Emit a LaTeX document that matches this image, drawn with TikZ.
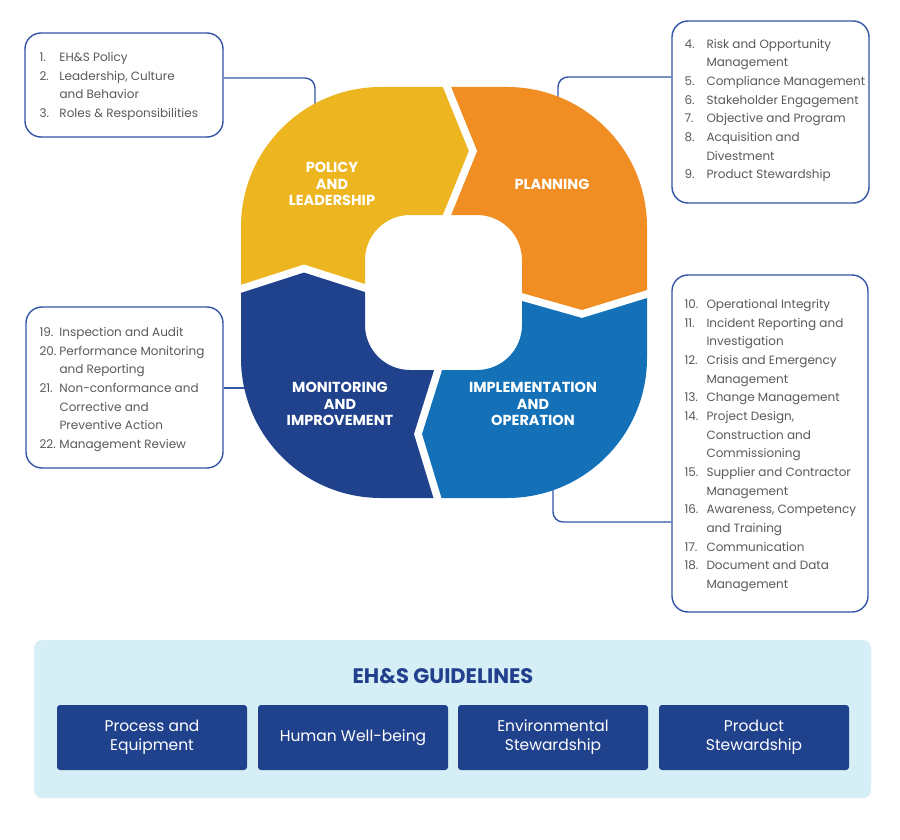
\documentclass[tikz,border=0pt]{standalone}
\usepackage{fontspec}
\setmainfont{Poppins}
\usetikzlibrary{calc}
\definecolor{yellowc}{HTML}{EDB51F}
\definecolor{orangec}{HTML}{F08D23}
\definecolor{bluec}{HTML}{1471B8}
\definecolor{navyc}{HTML}{20418C}
\definecolor{boxline}{HTML}{3356A6}
\definecolor{listgray}{HTML}{5A5A5C}
\definecolor{panelc}{HTML}{D6EEF5}
\definecolor{titlec}{HTML}{213F8D}
\newlength\nmw
\newcommand\nm[1]{\makebox[\nmw][l]{#1}}
\newcommand\ringpath{[rounded corners=140pt] (241,87) rectangle (647,498) [rounded corners=45pt] (365,215) rectangle (522,370)}
\begin{document}
\begin{tikzpicture}[x=1pt,y=-1pt,
  listbox/.style={draw=boxline, line width=1.4pt, rounded corners=16pt, inner sep=0pt},
  listtext/.style={inner sep=0pt, align=left, text=listgray, font=\fontsize{12}{18.65}\selectfont},
  conn/.style={draw=boxline, line width=1.4pt, rounded corners=10pt},
  ringlabel/.style={text=white, align=center, font=\fontsize{14.5}{16.5}\selectfont\bfseries, inner sep=0pt},
  gap/.style={draw=white, line width=7.5pt},
  gbox/.style={fill=navyc, rounded corners=3pt, minimum width=190pt, minimum height=65pt, inner sep=0pt, text=white, align=center, font=\fontsize{15.5}{19}\selectfont}
]
\useasboundingbox (0,0) rectangle (900,840);
\fill[white] (0,0) rectangle (900,840);

% list boxes
\node[listbox, minimum width=198pt, minimum height=104pt] (b1) at (124,85) {};
\node[listbox, minimum width=197pt, minimum height=182pt] (b2) at (770.5,112) {};
\node[listbox, minimum width=197pt, minimum height=161pt] (b3) at (124.5,387.5) {};
\node[listbox, minimum width=196pt, minimum height=337pt] (b4) at (770,443.5) {};

\node[listtext, anchor=west, execute at begin node={\setlength\nmw{20pt}}] (t1) at ([xshift=15pt,yshift=-1.5pt]b1.west)
 {\nm{1.}EH\&S Policy\\
  \nm{2.}Leadership, Culture\\
  \nm{}and Behavior\\
  \nm{3.}Roles \& Responsibilities};
\node[listtext, anchor=west, execute at begin node={\setlength\nmw{22pt}}] (t2) at ([xshift=13pt,yshift=1.5pt]b2.west)
 {\nm{4.}Risk and Opportunity\\
  \nm{}Management\\
  \nm{5.}Compliance Management\\
  \nm{6.}Stakeholder Engagement\\
  \nm{7.}Objective and Program\\
  \nm{8.}Acquisition and\\
  \nm{}Divestment\\
  \nm{9.}Product Stewardship};
\node[listtext, anchor=west, execute at begin node={\setlength\nmw{20pt}}] (t3) at ([xshift=14pt,yshift=-2pt]b3.west)
 {\nm{19.}Inspection and Audit\\
  \nm{20.}Performance Monitoring\\
  \nm{}and Reporting\\
  \nm{21.}Non-conformance and\\
  \nm{}Corrective and\\
  \nm{}Preventive Action\\
  \nm{22.}Management Review};
\node[listtext, anchor=west, execute at begin node={\setlength\nmw{22pt}}] (t4) at ([xshift=13pt,yshift=-2pt]b4.west)
 {\nm{10.}Operational Integrity\\
  \nm{11.}Incident Reporting and\\
  \nm{}Investigation\\
  \nm{12.}Crisis and Emergency\\
  \nm{}Management\\
  \nm{13.}Change Management\\
  \nm{14.}Project Design,\\
  \nm{}Construction and\\
  \nm{}Commissioning\\
  \nm{15.}Supplier and Contractor\\
  \nm{}Management\\
  \nm{16.}Awareness, Competency\\
  \nm{}and Training\\
  \nm{17.}Communication\\
  \nm{18.}Document and Data\\
  \nm{}Management};

% connectors
\coordinate (e1) at (315,120);
\coordinate (e2) at (558,115);
\coordinate (e3) at (252,388);
\coordinate (e4) at (553,470);
\draw[conn] (b1.east |- 0,78) -| (e1);
\draw[conn] (b2.west |- 0,77) -| (e2);
\draw[conn] (b3.east |- 0,388) -- (e3);
\draw[conn] (b4.west |- 0,522) -| (e4);

% ring
\begin{scope}
\clip (447,40) -- (447,87) -- (473,151) -- (447,215) -- (444,293) -- (365,288) -- (304,268.5) -- (242,288.5) -- (200,288.5) -- (200,40) -- cycle;
\fill[yellowc, even odd rule] \ringpath;
\end{scope}
\begin{scope}
\clip (447,40) -- (447,87) -- (473,151) -- (447,215) -- (444,293) -- (522,297) -- (582,314) -- (647,294) -- (700,294) -- (700,40) -- cycle;
\fill[orangec, even odd rule] \ringpath;
\end{scope}
\begin{scope}
\clip (444,293) -- (522,297) -- (582,314) -- (647,294) -- (700,294) -- (700,540) -- (437.5,540) -- (437.5,498) -- (418,434) -- (437.5,372) -- cycle;
\fill[bluec, even odd rule] \ringpath;
\end{scope}
\begin{scope}
\clip (444,293) -- (437.5,372) -- (418,434) -- (437.5,498) -- (437.5,540) -- (200,540) -- (200,288.5) -- (242,288.5) -- (304,268.5) -- (365,288) -- cycle;
\fill[navyc, even odd rule] \ringpath;
\end{scope}
\draw[gap] (439,67) -- (447,87) -- (473,151) -- (447,215) -- (439,235);
\draw[gap] (502,291) -- (522,297) -- (582,314) -- (647,294) -- (667,288);
\draw[gap] (443,352) -- (437.5,372) -- (418,434) -- (437.5,498) -- (443,518);
\draw[gap] (222,295) -- (242,288.5) -- (304,268.5) -- (365,288) -- (385,294);

\node[ringlabel] (l1) at (332,184) {POLICY\\AND\\LEADERSHIP};
\node[ringlabel] (l2) at (552,184) {PLANNING};
\node[ringlabel] (l3) at (340,404) {MONITORING\\AND\\IMPROVEMENT};
\node[ringlabel] (l4) at (533,404) {IMPLEMENTATION\\AND\\OPERATION};

% guidelines panel
\node[fill=panelc, rounded corners=8pt, minimum width=837pt, minimum height=158pt, inner sep=0pt] (panel) at (452.5,719) {};
\node[text=titlec, font=\fontsize{21}{24}\selectfont\bfseries, inner sep=0pt] (title) at (443,676) {EH\&S GUIDELINES};
\node[gbox] (g1) at (152,737.5) {Process and\\Equipment};
\node[gbox] (g2) at (353,737.5) {Human Well-being};
\node[gbox] (g3) at (553,737.5) {Environmental\\Stewardship};
\node[gbox] (g4) at (754,737.5) {Product\\Stewardship};
\end{tikzpicture}
\end{document}
